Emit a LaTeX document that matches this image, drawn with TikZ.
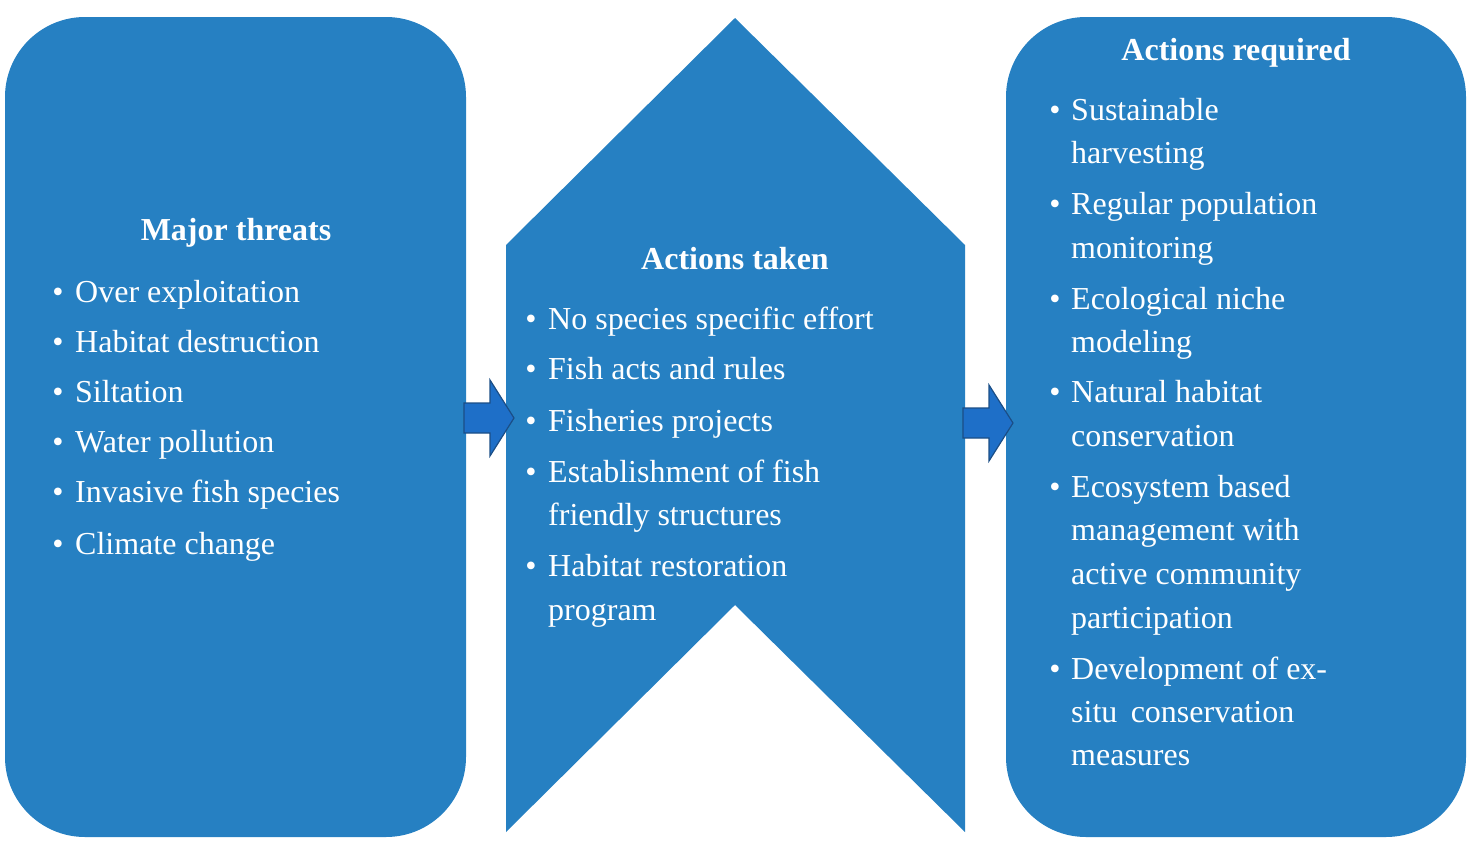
\documentclass[tikz,border=0pt]{standalone}
\usepackage{fontspec}
\setmainfont{Liberation Serif}
\definecolor{boxblue}{HTML}{2680C2}
\definecolor{arrowblue}{HTML}{1E6FC8}
\definecolor{arrowedge}{HTML}{1B4E86}
\begin{document}
\begin{tikzpicture}[x=1pt,y=-1pt,
  txt/.style={text=white,anchor=mid west,inner sep=0pt,font=\fontsize{32}{40}\selectfont},
  ttl/.style={text=white,anchor=mid,inner sep=0pt,font=\fontsize{32}{40}\selectfont\bfseries},
  bul/.style={text=white,anchor=mid,inner sep=0pt,font=\fontsize{32}{40}\selectfont},
  barrow/.style={fill=arrowblue,draw=arrowedge,line width=1.2pt}]
\useasboundingbox (0,0) rectangle (1476,846);
\fill[boxblue,rounded corners=80pt] (5,17) rectangle (466,837);
\fill[boxblue] (506,245) -- (735,18) -- (965,245) -- (965,832) -- (735,605) -- (506,832) -- cycle;
\fill[boxblue,rounded corners=80pt] (1006,17) rectangle (1466,837);
% arrows
\draw[barrow] (464,403) -- (490,403) -- (490,380) -- (514,418) -- (490,456) -- (490,433) -- (464,433) -- cycle;
\draw[barrow] (963,408) -- (989,408) -- (989,385) -- (1013,423) -- (989,461) -- (989,438) -- (963,438) -- cycle;
% left
\node[ttl] (t1) at (236,238) {Major threats};
\foreach \y/\t [count=\i] in {300/Over exploitation,350/Habitat destruction,400/Siltation,450/Water pollution,500/Invasive fish species,552/Climate change}{
  \node[bul] (lb\i) at (58,\y) {\textbullet};
  \node[txt] (l\i) at (75,\y) {\t};}
% middle
\node[ttl] (t2) at (735,267) {Actions taken};
\foreach \y in {327,377,429,480,574}{\node[bul] at (531,\y) {\textbullet};}
\node[txt] (m1) at (548,327) {No species specific effort};
\node[txt] (m2) at (548,377) {Fish acts and rules};
\node[txt] (m3) at (548,429) {Fisheries projects};
\node[txt] (m4) at (548,480) {Establishment of fish};
\node[txt] (m4b) at (548,523) {friendly structures};
\node[txt] (m5) at (548,574) {Habitat restoration};
\node[txt] (m5b) at (548,618) {program};
% right
\node[ttl] (t3) at (1236,58) {Actions required};
\foreach \y in {118,212,307,400,495,677}{\node[bul] at (1055,\y) {\textbullet};}
\node[txt] (r1) at (1071,118) {Sustainable};
\node[txt] (r1b) at (1071,161) {harvesting};
\node[txt] (r2) at (1071,212) {Regular population};
\node[txt] (r2b) at (1071,256) {monitoring};
\node[txt] (r3) at (1071,307) {Ecological niche};
\node[txt] (r3b) at (1071,350) {modeling};
\node[txt] (r4) at (1071,400) {Natural habitat};
\node[txt] (r4b) at (1071,444) {conservation};
\node[txt] (r5) at (1071,495) {Ecosystem based};
\node[txt] (r5b) at (1071,538) {management with};
\node[txt] (r5c) at (1071,582) {active community};
\node[txt] (r5d) at (1071,626) {participation};
\node[txt] (r6) at (1071,677) {Development of ex-};
\node[txt] (r6b) at (1071,720) {situ\, conservation};
\node[txt] (r6c) at (1071,763) {measures};
\end{tikzpicture}
\end{document}
